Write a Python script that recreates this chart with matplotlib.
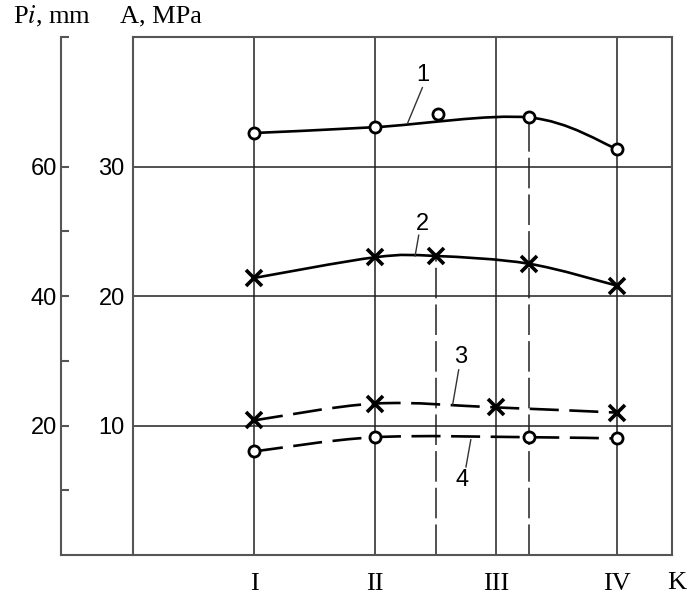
import numpy as np
import matplotlib
matplotlib.use("Agg")
import matplotlib.pyplot as plt
from matplotlib.path import Path
from matplotlib.patches import PathPatch

plt.rcParams['mathtext.fontset'] = 'stix'

# stages on the K axis
stage_pos = [1, 2, 3, 4]
stage_labels = ['I', 'II', 'III', 'IV']

# curve 1 (circles, solid), A in MPa
k1 = [1, 2, 3.27, 4]
a1 = [32.6, 33.05, 33.8, 31.35]
k1_extra = [2.52]
a1_extra = [34.05]

# curve 2 (crosses, solid)
k2 = [1, 2, 2.5, 3.27, 4]
a2 = [21.4, 23.0, 23.1, 22.5, 20.8]

# curve 3 (crosses, dashed)
k3 = [1, 2, 3.0, 4]
a3 = [10.4, 11.7, 11.4, 11.0]

# curve 4 (circles, dashed)
k4 = [1, 2, 3.27, 4]
a4 = [8.0, 9.1, 9.1, 9.0]

# vertical dashed markers
vline_k = [2.5, 3.27]
vline_top = [23.1, 33.8]

a_ticks = [10, 20, 30]
p_ticks = [20, 40, 60, 80]
p_labels = ['20', '40', '60', '']
p_minor = [10, 30, 50]

SANS = 'Liberation Sans'
SERIF = 'Liberation Serif'


def smooth_path(xs, ys):
    pts = np.column_stack([xs, ys]).astype(float)
    verts = [pts[0]]
    codes = [Path.MOVETO]
    n = len(pts)
    for i in range(n - 1):
        p0 = pts[i - 1] if i > 0 else pts[i]
        p1 = pts[i]
        p2 = pts[i + 1]
        p3 = pts[i + 2] if i + 2 < n else pts[i + 1]
        c1 = p1 + (p2 - p0) / 6
        c2 = p2 - (p3 - p1) / 6
        verts += [c1, c2, p2]
        codes += [Path.CURVE4] * 3
    return Path(verts, codes)


fig = plt.figure(figsize=(6.89, 6.0), dpi=100)
ax = fig.add_axes([0.193, 0.075, 0.782, 0.863])
ax.set_xlim(0, 4.45)
ax.set_ylim(0, 40)

spine_col = '#555555'
for s in ax.spines.values():
    s.set_color(spine_col)
    s.set_linewidth(1.5)

# grid
for x in stage_pos:
    ax.axvline(x, color='#222222', lw=1.1, zorder=1)
for y in a_ticks:
    ax.axhline(y, color='#222222', lw=1.1, zorder=1)

for xk, yt in zip(vline_k, vline_top):
    ax.plot([xk, xk], [0, yt], color='#222222', lw=1.1,
            linestyle=(0, (20, 4)), zorder=1)

ax.set_yticks(a_ticks)
ax.set_yticklabels([str(v) for v in a_ticks], fontsize=17, fontfamily=SANS)
ax.tick_params(axis='y', length=0, pad=6)
ax.set_xticks(stage_pos)
ax.set_xticklabels(stage_labels, fontsize=19, fontfamily=SERIF)
ax.tick_params(axis='x', length=0, pad=13)

# curves
lw = 1.9
for xs, ys, ls in [(k1, a1, '-'), (k2, a2, '-'),
                   (k3, a3, (0, (11, 4))), (k4, a4, (0, (11, 4)))]:
    patch = PathPatch(smooth_path(xs, ys), fill=False, edgecolor='black',
                      lw=lw, linestyle=ls, zorder=3, capstyle='butt')
    ax.add_patch(patch)

ax.plot(k1, a1, 'o', ms=8, mfc='white', mec='black', mew=2, zorder=4)
ax.plot(k1_extra, a1_extra, 'o', ms=8, mfc='white', mec='black', mew=2, zorder=4)
ax.plot(k4, a4, 'o', ms=8, mfc='white', mec='black', mew=2, zorder=4)
ax.plot(k2, a2, 'x', ms=12, mec='black', mew=2.6, zorder=4)
ax.plot(k3, a3, 'x', ms=12, mec='black', mew=2.6, zorder=4)

# curve numbers with leader lines
labels = [('1', 2.39, 37.1, (2.39, 36.1), (2.27, 33.4)),
          ('2', 2.39, 25.6, (2.36, 24.7), (2.33, 23.1)),
          ('3', 2.71, 15.3, (2.69, 14.3), (2.64, 11.6)),
          ('4', 2.72, 5.8, (2.79, 8.9), (2.75, 6.8))]
for txt, tx, ty, p_a, p_b in labels:
    ax.text(tx, ty, txt, fontsize=17, fontfamily=SANS, ha='center', va='center')
    ax.plot([p_a[0], p_b[0]], [p_a[1], p_b[1]], color='#333333', lw=1.0, zorder=3)

ax.text(4.49, -2.2, 'K', fontsize=19, fontfamily=SERIF, ha='center', va='center',
        clip_on=False)

# outer P axis
ax2 = ax.twinx()
ax2.set_ylim(0, 80)
ax2.yaxis.set_ticks_position('left')
ax2.yaxis.set_label_position('left')
ax2.spines['left'].set_position(('outward', 51.8))
ax2.spines['left'].set_color(spine_col)
ax2.spines['left'].set_linewidth(1.5)
for s in ['right', 'top', 'bottom']:
    ax2.spines[s].set_visible(False)
ax2.set_yticks(p_ticks)
ax2.set_yticklabels(p_labels, fontsize=17, fontfamily=SANS)
ax2.set_yticks(p_minor, minor=True)
ax2.tick_params(axis='y', which='both', direction='in', length=6, width=1.5,
                color=spine_col, pad=3)

# bottom line extended to the outer axis
ax.plot([-0.595, 0], [0, 0], color=spine_col, lw=1.5, clip_on=False, zorder=5)

fig.text(13 / 689, 1 - 16 / 600, r'P$\it{i}$, mm', fontsize=19, fontfamily=SERIF,
         ha='left', va='center')
fig.text(120 / 689, 1 - 16 / 600, 'A, MPa', fontsize=19, fontfamily=SERIF,
         ha='left', va='center')

fig.savefig('out.png', dpi=100)
